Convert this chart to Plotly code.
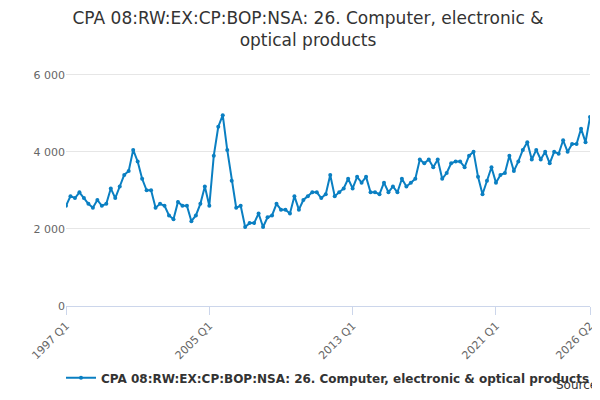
import plotly.graph_objects as go

vals = [2600, 2850, 2800, 2950, 2800, 2650, 2550, 2750, 2600, 2650, 3050, 2800,
        3100, 3400, 3500, 4050, 3750, 3300, 3000, 3000, 2550, 2650, 2600, 2350,
        2250, 2700, 2600, 2600, 2200, 2350, 2650, 3100, 2600, 3900, 4650, 4950,
        4050, 3250, 2550, 2600, 2050, 2150, 2150, 2400, 2050, 2300, 2350, 2650,
        2500, 2500, 2400, 2850, 2500, 2750, 2850, 2950, 2950, 2800, 2900, 3400,
        2850, 2950, 3050, 3300, 3050, 3350, 3200, 3350, 2950, 2950, 2900, 3200,
        2950, 3100, 2950, 3300, 3100, 3200, 3300, 3800, 3700, 3800, 3600, 3800,
        3300, 3450, 3700, 3750, 3750, 3600, 3900, 4000, 3350, 2900, 3250, 3600,
        3200, 3400, 3450, 3900, 3500, 3750, 4050, 4250, 3800, 4050, 3800, 4000,
        3700, 4000, 3950, 4300, 4000, 4200, 4200, 4600, 4250, 4900]
quarters = [f"{y} Q{q}" for y in range(1997, 2027) for q in range(1, 5)][:len(vals)]

name = "CPA 08:RW:EX:CP:BOP:NSA: 26. Computer, electronic & optical products"
fig = go.Figure()
fig.add_trace(go.Scatter(x=quarters, y=vals, mode="lines+markers", name=name,
                         line=dict(color="#0a7fc2", width=2),
                         marker=dict(size=4, color="#0a7fc2")))

fig.update_layout(
    width=600, height=400,
    font=dict(family="DejaVu Sans", color="#333"),
    title=dict(text="CPA 08:RW:EX:CP:BOP:NSA: 26. Computer, electronic &<br>optical products",
               x=0.5, y=0.96, font=dict(size=17)),
    paper_bgcolor="white", plot_bgcolor="white",
    margin=dict(l=58, r=18, t=59, b=102),
    showlegend=True,
    legend=dict(orientation="h", x=0.5, xanchor="center", y=-0.24,
                font=dict(size=12, color="#333", weight="bold")),
    xaxis=dict(type="category", range=[0, len(vals) - 1],
               tickvals=["1997 Q1", "2005 Q1", "2013 Q1", "2021 Q1", "2026 Q2"],
               tickangle=-45, showgrid=False, ticks="outside", ticklen=8,
               tickcolor="#ccd6eb", showline=True, linecolor="#ccd6eb",
               tickfont=dict(size=11, color="#666")),
    yaxis=dict(range=[0, 6200], tickvals=[0, 2000, 4000, 6000],
               ticktext=["0", "2 000", "4 000", "6 000"], gridcolor="#e6e6e6",
               zeroline=False, tickfont=dict(size=11, color="#666")),
)
fig.add_annotation(text="Source:", xref="paper", yref="paper", x=1.025, y=-0.37,
                   xanchor="right", showarrow=False, font=dict(size=12, color="#333"))
fig.write_html("out.html")
